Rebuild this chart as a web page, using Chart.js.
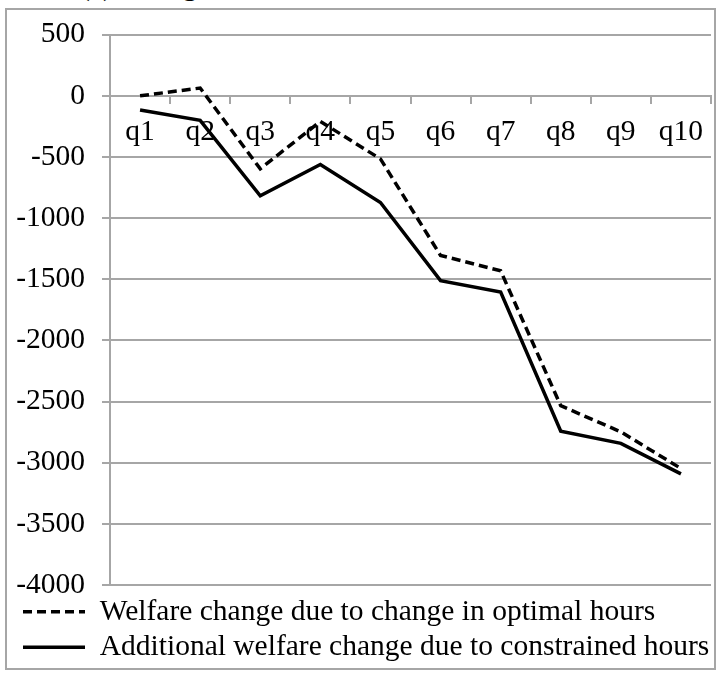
<!DOCTYPE html>
<html>
<head>
<meta charset="utf-8">
<script src="https://cdn.jsdelivr.net/npm/chart.js@4"></script>
<style>
  body { margin: 0; background: #fff; }
  #wrap { position: relative; width: 718px; height: 673px; overflow: hidden; }
  #frame { position: absolute; left: 5px; top: 8px; width: 711px; height: 662px; box-sizing: border-box; border: 2px solid #a6a6a6; }
  #title { position: absolute; left: 80px; top: -29px; font: 29.5px "Liberation Serif", serif; line-height: 29.5px; white-space: nowrap; }
  canvas { position: absolute; left: 0; top: 0; }
</style>
</head>
<body>
<div id="wrap">
  <div id="title">(c) Change in welfare</div>
  <div id="frame"></div>
  <canvas id="chart" width="718" height="673"></canvas>
</div>
<script>
// Data
const quantiles = ["q1", "q2", "q3", "q4", "q5", "q6", "q7", "q8", "q9", "q10"];
const optimalHours = [0, 64, -597, -209, -516, -1305, -1431, -2534, -2748, -3047];
const constrainedHours = [-115, -200, -818, -561, -872, -1511, -1604, -2743, -2842, -3091];
const seriesNames = ["Welfare change due to change in optimal hours", "Additional welfare change due to constrained hours"];
const yMin = -4000;
const yMax = 500;
const yStep = 500;

const gray = "#a6a6a6";
const font = { family: "'Liberation Serif', 'Times New Roman', serif", size: 29.5 };

new Chart(document.getElementById("chart"), {
  type: "line",
  data: {
    labels: quantiles,
    datasets: [
      {
        label: seriesNames[0],
        data: optimalHours,
        borderColor: "#000",
        borderWidth: 3.5,
        borderDash: [9, 5],
        pointRadius: 0,
        fill: false,
        tension: 0
      },
      {
        label: seriesNames[1],
        data: constrainedHours,
        borderColor: "#000",
        borderWidth: 3.5,
        pointRadius: 0,
        fill: false,
        tension: 0
      }
    ]
  },
  options: {
    responsive: false,
    animation: false,
    layout: { padding: { left: 17, right: 7, top: 25, bottom: 1 } },
    plugins: {
      tooltip: { enabled: false },
      legend: {
        position: "bottom",
        align: "start",
        // empty title only used as a small gap above the legend rows
        title: { display: true, text: "", padding: { top: 6, bottom: 0 }, font: { size: 1, lineHeight: 0 } },
        labels: {
          usePointStyle: true,
          pointStyle: "line",
          pointStyleWidth: 62,
          padding: 6,
          color: "#000",
          font: font,
          generateLabels: function(chart) {
            const items = Chart.defaults.plugins.legend.labels.generateLabels(chart);
            items.forEach(function(item) {
              const ds = chart.data.datasets[item.datasetIndex];
              item.lineDash = ds.borderDash || [];
              item.lineWidth = ds.borderWidth;
              item.strokeStyle = ds.borderColor;
            });
            return items;
          }
        }
      }
    },
    scales: {
      x: {
        position: { y: 0 },
        offset: true,
        grid: { offset: true, drawOnChartArea: false, color: gray, lineWidth: 2, tickLength: 7 },
        border: { color: gray, width: 2 },
        ticks: { color: "#000", font: font, padding: 12, autoSkip: false, maxRotation: 0 }
      },
      y: {
        min: yMin,
        max: yMax,
        afterFit: function(scale) { scale.width = 93; },
        grid: { color: gray, lineWidth: 2, tickLength: 8 },
        border: { color: gray, width: 2 },
        ticks: {
          stepSize: yStep,
          color: "#000",
          font: font,
          padding: 17,
          callback: function(value) { return String(value); }
        }
      }
    }
  }
});
</script>
</body>
</html>
